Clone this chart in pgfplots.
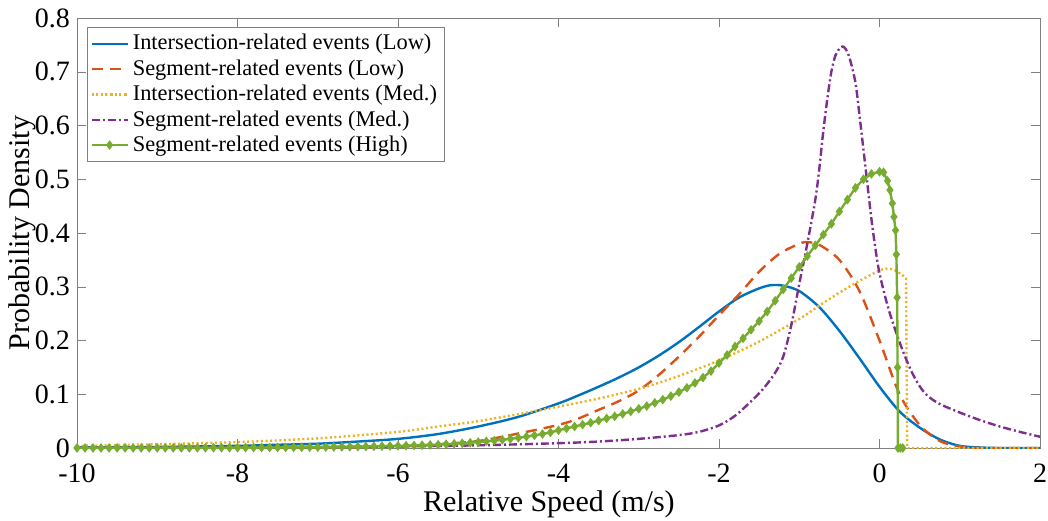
\documentclass[border=0pt]{standalone}
\usepackage{fontspec}
\setmainfont{Liberation Serif}
\usepackage{pgfplots}
\pgfplotsset{compat=1.18}
\definecolor{mblue}{rgb}{0,0.447,0.741}
\definecolor{morange}{rgb}{0.851,0.325,0.098}
\definecolor{myellow}{rgb}{0.929,0.694,0.125}
\definecolor{mpurple}{rgb}{0.494,0.184,0.556}
\definecolor{mgreen}{rgb}{0.466,0.674,0.188}
\begin{document}
\begin{tikzpicture}
\useasboundingbox (-38.5pt,-36pt) rectangle (485.5pt,224pt);
\begin{axis}[
  scale only axis, width=481.5pt, height=215pt,
  at={(0pt,0pt)}, anchor=south west,
  xmin=-10, xmax=2, ymin=0, ymax=0.8,
  xtick={-10,-8,-6,-4,-2,0,2}, xticklabels={-10,-8,-6,-4,-2,0,2},
  ytick={0,0.1,0.2,0.3,0.4,0.5,0.6,0.7,0.8},
  yticklabels={0,0.1,0.2,0.3,0.4,0.5,0.6,0.7,0.8},
  tick align=inside, major tick length=4.5pt,
  axis line style={black!50}, tick style={black!50},
  ticklabel style={font=\fontsize{14}{14}\selectfont},
  xticklabel style={yshift=-4.5pt},
  label style={font=\fontsize{15}{15}\selectfont},
  xlabel={Relative Speed (m/s)}, ylabel={Probability Density},
  xlabel style={at={(axis description cs:0.49,-0.132)}, anchor=center},
  ylabel style={at={(axis description cs:-0.057,0.5)}, anchor=center},
  legend style={at={(axis description cs:0.0104,0.979)}, anchor=north west,
    draw=black!50, font=\fontsize{11.2}{12}\selectfont, inner sep=1.5pt, row sep=-0.6pt},
  legend cell align=left,
  legend image code/.code={\draw[mark repeat=2,mark phase=2,#1] plot coordinates {(0pt,0pt) (9pt,0pt) (18pt,0pt)};},
  every axis plot/.append style={line width=1.2pt},
]
% Intersection-related (Low)
\addplot[mblue, smooth] coordinates {
(-10,0.001) (-9,0.002) (-8,0.004) (-7.5,0.006) (-7,0.008) (-6.5,0.012) (-6,0.017) (-5.5,0.026) (-5,0.040) (-4.5,0.058) (-4,0.083) (-3.75,0.098) (-3.5,0.114) (-3.25,0.131) (-3,0.150) (-2.75,0.172) (-2.5,0.197) (-2.25,0.225) (-2,0.254) (-1.75,0.280) (-1.5,0.297) (-1.35,0.303) (-1.2,0.302) (-1,0.292) (-0.75,0.262) (-0.5,0.218) (-0.25,0.167) (0,0.114) (0.25,0.068) (0.5,0.038) (0.75,0.016) (1,0.004) (1.25,0.001) (1.5,0) (2,0)
};
\addlegendentry{Intersection-related events (Low)}
% Segment-related (Low)
\addplot[morange, smooth, dash pattern=on 5.5pt off 3.5pt] coordinates {
(-10,0) (-8,0.0003) (-7,0.001) (-6,0.003) (-5.5,0.007) (-5,0.013) (-4.5,0.027) (-4,0.043) (-3.75,0.055) (-3.5,0.071) (-3.25,0.087) (-3,0.107) (-2.75,0.136) (-2.5,0.170) (-2.25,0.207) (-2,0.247) (-1.75,0.286) (-1.5,0.328) (-1.25,0.361) (-1,0.380) (-0.9,0.383) (-0.75,0.378) (-0.5,0.350) (-0.25,0.292) (0,0.200) (0.25,0.100) (0.5,0.043) (0.75,0.013) (1,0.003) (1.25,0) (2,0)
};
\addlegendentry{Segment-related events (Low)}
% Intersection-related (Med.)
\addplot[myellow, smooth, dash pattern=on 1pt off 1.3pt] coordinates {
(-10,0.004) (-9,0.007) (-8,0.011) (-7,0.018) (-6,0.030) (-5.5,0.040) (-5,0.050) (-4.5,0.063) (-4,0.077) (-3.5,0.092) (-3,0.110) (-2.5,0.134) (-2,0.163) (-1.5,0.198) (-1,0.240) (-0.75,0.265) (-0.5,0.289) (-0.25,0.311) (0,0.330) (0.1,0.334) (0.2,0.330) (0.3,0.320) (0.33,0.316)
};
\addlegendentry{Intersection-related events (Med.)}
\addplot[myellow, sharp plot, dash pattern=on 1pt off 1.3pt, forget plot] coordinates {
(0.33,0.316) (0.345,0) (2,0)
};
% Segment-related (Med.)
\addplot[mpurple, smooth, dash pattern=on 4pt off 1.5pt on 1pt off 1.5pt] coordinates {
(-10,0.0005) (-8,0.001) (-6,0.003) (-5,0.005) (-4,0.009) (-3.5,0.012) (-3,0.017) (-2.5,0.024) (-2.25,0.030) (-2,0.042) (-1.8,0.060) (-1.6,0.087) (-1.45,0.110) (-1.3,0.140) (-1.2,0.170) (-1.1,0.228) (-1,0.305) (-0.9,0.380) (-0.8,0.462) (-0.75,0.520) (-0.7,0.590) (-0.65,0.650) (-0.6,0.700) (-0.55,0.730) (-0.5,0.743) (-0.46,0.747) (-0.42,0.742) (-0.37,0.724) (-0.3,0.680) (-0.25,0.620) (-0.2,0.555) (-0.15,0.490) (-0.1,0.425) (-0.05,0.370) (0,0.325) (0.1,0.265) (0.2,0.218) (0.3,0.177) (0.4,0.142) (0.5,0.115) (0.6,0.097) (0.75,0.082) (1,0.066) (1.25,0.052) (1.5,0.040) (1.75,0.030) (2,0.021)
};
\addlegendentry{Segment-related events (Med.)}
% Segment-related (High)
\addplot[mgreen, sharp plot, mark=diamond*, mark size=1.45pt, mark options={solid, fill=mgreen}] coordinates {
(-10.0,0.0001) (-9.9,0.0001) (-9.8,0.0001) (-9.7,0.0001) (-9.6,0.0001) (-9.5,0.0002) (-9.4,0.0002) (-9.3,0.0002) (-9.2,0.0002) (-9.1,0.0002)
(-9.0,0.0002) (-8.9,0.0003) (-8.8,0.0003) (-8.7,0.0003) (-8.6,0.0003) (-8.5,0.0004) (-8.4,0.0004) (-8.3,0.0005) (-8.2,0.0005) (-8.1,0.0006)
(-8.0,0.0006) (-7.9,0.0007) (-7.8,0.0008) (-7.7,0.0009) (-7.6,0.0009) (-7.5,0.0010) (-7.4,0.0011) (-7.3,0.0012) (-7.2,0.0013) (-7.1,0.0014)
(-7.0,0.0015) (-6.9,0.0017) (-6.8,0.0019) (-6.7,0.0021) (-6.6,0.0023) (-6.5,0.0025) (-6.4,0.0028) (-6.3,0.0031) (-6.2,0.0034) (-6.1,0.0037)
(-6.0,0.0040) (-5.9,0.0044) (-5.8,0.0048) (-5.7,0.0052) (-5.6,0.0057) (-5.5,0.0062) (-5.4,0.0070) (-5.3,0.0079) (-5.2,0.0088) (-5.1,0.0098)
(-5.0,0.0110) (-4.9,0.0124) (-4.8,0.0138) (-4.7,0.0153) (-4.6,0.0170) (-4.5,0.0190) (-4.4,0.0212) (-4.3,0.0235) (-4.2,0.0260) (-4.1,0.0290)
(-4.0,0.0330) (-3.9,0.0365) (-3.8,0.0400) (-3.7,0.0435) (-3.6,0.0470) (-3.5,0.0510) (-3.4,0.0550) (-3.3,0.0590) (-3.2,0.0635) (-3.1,0.0680)
(-3.0,0.0730) (-2.9,0.0780) (-2.8,0.0840) (-2.7,0.0900) (-2.6,0.0965) (-2.5,0.1040) (-2.4,0.1120) (-2.3,0.1210) (-2.2,0.1310) (-2.1,0.1430)
(-2.0,0.1580) (-1.9,0.1730) (-1.8,0.1890) (-1.7,0.2040) (-1.6,0.2200) (-1.5,0.2360) (-1.4,0.2540) (-1.3,0.2740) (-1.2,0.2950) (-1.1,0.3160)
(-1.0,0.3370) (-0.9,0.3570) (-0.8,0.3770) (-0.7,0.3970) (-0.6,0.4170) (-0.5,0.4400) (-0.4,0.4620) (-0.3,0.4840) (-0.2,0.5000) (-0.1,0.5100)
(0.0,0.5140) (0.05,0.5130) (0.1,0.4970) (0.13,0.4800) (0.16,0.4550) (0.18,0.4300) (0.2,0.4050) (0.21,0.3600) (0.22,0.2800) (0.225,0.1500)
(0.23,0.0000) (0.26,0.0000) (0.29,0.0000)
};
\addlegendentry{Segment-related events (High)}
\end{axis}
\end{tikzpicture}
\end{document}
